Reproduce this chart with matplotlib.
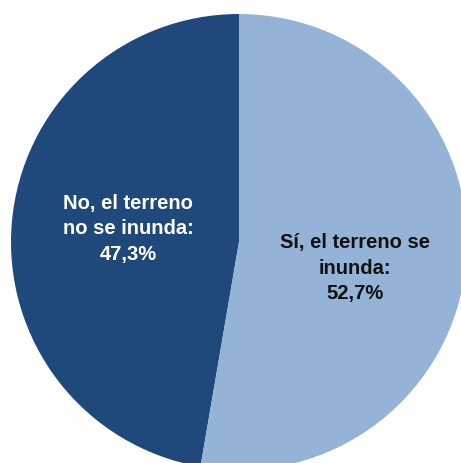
import matplotlib
matplotlib.use("Agg")
import matplotlib.pyplot as plt

# Share of plots where the ground floods / does not flood (percent)
categories = ["No, el terreno\nno se inunda", "Sí, el terreno se\ninunda"]
shares = [47.3, 52.7]
colors = ["#20497B", "#95B3D7"]
text_colors = ["white", "#111111"]

fig = plt.figure(figsize=(4.61, 4.64), dpi=100)
# pie is slightly cropped on the right and bottom edges in the original
ax = fig.add_axes([11 / 461, -7 / 464, 456 / 461, 456 / 464])

ax.pie(shares, colors=colors, startangle=90, counterclock=True,
       radius=1.0, wedgeprops=dict(linewidth=0))
ax.set_xlim(-1, 1)
ax.set_ylim(-1, 1)
ax.set_aspect("auto")
ax.axis("off")

label_pos = [(-0.487, 0.062), (0.509, -0.110)]
for cat, val, (x, y), tc in zip(categories, shares, label_pos, text_colors):
    pct = f"{val:.1f}".replace(".", ",") + "%"
    ax.text(x, y, f"{cat}:\n{pct}", ha="center", va="center", color=tc,
            fontsize=14.5, fontweight="bold", family="Liberation Sans",
            linespacing=1.45)

fig.savefig("out.png", dpi=100)
